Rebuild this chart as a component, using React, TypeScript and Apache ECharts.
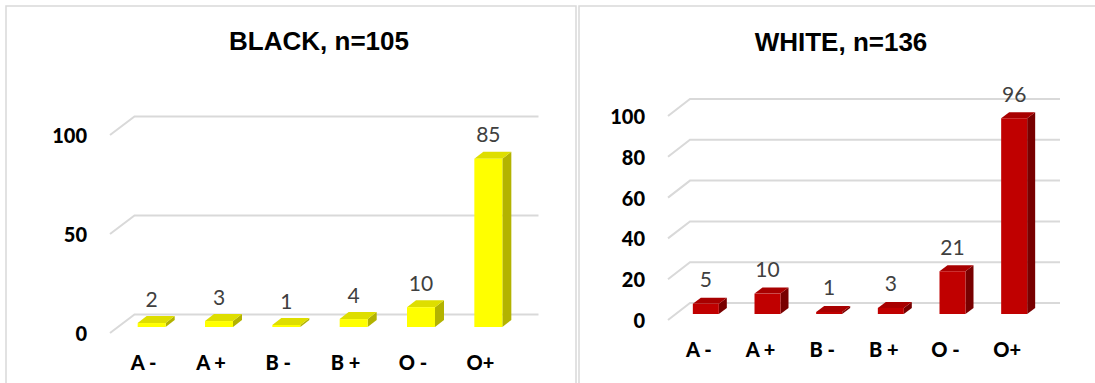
import { useEffect, useRef } from "react";
import * as echarts from "echarts";

// Blood group distribution by race
const bloodGroups = ["A -", "A +", "B -", "B +", "O -", "O+"];
const blackCounts = [2, 3, 1, 4, 10, 85];
const whiteCounts = [5, 10, 1, 3, 21, 96];
const blackTicks = [0, 50, 100];
const whiteTicks = [0, 20, 40, 60, 80, 100];
const blackTitle = "BLACK, n=105";
const whiteTitle = "WHITE, n=136";

type Panel = {
  grid: { left: number; top: number; width: number; height: number };
  interval: number;
  ticks: number[];
  values: number[];
  slant: [number, number];
  bar: { offX: number; offY: number; w: number; dx: number; dy: number };
  colors: { front: string; top: string; side: string };
};

const panels: Panel[] = [
  {
    grid: { left: 110, top: 135, width: 404, height: 198 },
    interval: 50,
    ticks: blackTicks,
    values: blackCounts,
    slant: [24.5, 18.5],
    bar: { offX: 8, offY: 6, w: 28, dx: 9, dy: 7 },
    colors: { front: "#FFFF00", top: "#DEDE00", side: "#B3B300" },
  },
  {
    grid: { left: 668, top: 116, width: 370, height: 204 },
    interval: 20,
    ticks: whiteTicks,
    values: whiteCounts,
    slant: [22, 17],
    bar: { offX: 7, offY: 6, w: 26, dx: 8, dy: 6 },
    colors: { front: "#C00000", top: "#A80000", side: "#780000" },
  },
];

const GRID_COLOR = "#D9D9D9";
const LABEL_FONT = "Lato, 'Open Sans', sans-serif";
const TITLE_FONT = "'Liberation Sans', Arial, sans-serif";

// Back-wall gridlines with the slanted floor edge on the left
function gridRenderer(p: Panel, count: number) {
  return (_params: any, api: any) => {
    const t = api.value(1);
    const first = api.coord([0, t]);
    const last = api.coord([count - 1, t]);
    const band = api.size([1, 0])[0];
    const xL = first[0] - band / 2;
    const xR = last[0] + band / 2;
    const y = first[1];
    const [sx, sy] = p.slant;
    return {
      type: "polyline",
      shape: {
        points: [
          [xL, y],
          [xL + sx, y - sy],
          [xR + sx, y - sy],
        ],
      },
      style: { stroke: GRID_COLOR, lineWidth: 2, fill: null },
      silent: true,
    };
  };
}

// Pseudo-3D column: front face, top face, right side face and value label
function barRenderer(p: Panel) {
  return (_params: any, api: any) => {
    const idx = api.value(0);
    const val = api.value(1);
    const base = api.coord([idx, 0]);
    const tip = api.coord([idx, val]);
    const { offX, offY, w, dx, dy } = p.bar;
    const x0 = base[0] + offX - w / 2;
    const x1 = x0 + w;
    const yb = base[1] - offY;
    const yt = tip[1] - offY;
    return {
      type: "group",
      children: [
        {
          type: "polygon",
          shape: {
            points: [
              [x1, yt],
              [x1 + dx, yt - dy],
              [x1 + dx, yb - dy],
              [x1, yb],
            ],
          },
          style: { fill: p.colors.side },
        },
        {
          type: "polygon",
          shape: {
            points: [
              [x0, yt],
              [x1, yt],
              [x1 + dx, yt - dy],
              [x0 + dx, yt - dy],
            ],
          },
          style: { fill: p.colors.top },
        },
        {
          type: "rect",
          shape: { x: x0, y: yt, width: w, height: yb - yt },
          style: { fill: p.colors.front },
        },
        {
          type: "text",
          x: x0 + w / 2,
          y: yt - 25,
          style: {
            text: String(val),
            fill: "#404040",
            fontSize: 21,
            fontFamily: LABEL_FONT,
            align: "center",
            verticalAlign: "middle",
          },
        },
      ],
    };
  };
}

export default function App() {
  const ref = useRef<HTMLDivElement>(null);

  useEffect(() => {
    if (!ref.current) return;
    const chart = echarts.init(ref.current, undefined, { renderer: "svg" });
    const count = bloodGroups.length;

    const option: any = {
      animation: false,
      backgroundColor: "#FFFFFF",
      grid: panels.map((p) => ({ ...p.grid, containLabel: false })),
      xAxis: panels.map((_p, i) => ({
        type: "category",
        gridIndex: i,
        data: bloodGroups,
        axisLine: { show: false },
        axisTick: { show: false },
        splitLine: { show: false },
        axisLabel: {
          margin: 19,
          color: "#000000",
          fontSize: 20,
          fontWeight: 900,
          fontFamily: LABEL_FONT,
        },
      })),
      yAxis: panels.map((p, i) => ({
        type: "value",
        gridIndex: i,
        min: 0,
        max: 100,
        interval: p.interval,
        axisLine: { show: false },
        axisTick: { show: false },
        splitLine: { show: false },
        axisLabel: {
          margin: 23,
          color: "#000000",
          fontSize: 20,
          fontWeight: 900,
          fontFamily: LABEL_FONT,
        },
      })),
      series: panels.flatMap((p, i) => [
        {
          type: "custom",
          xAxisIndex: i,
          yAxisIndex: i,
          z: 1,
          clip: false,
          silent: true,
          encode: { x: 0, y: 1 },
          data: p.ticks.map((t) => [0, t]),
          renderItem: gridRenderer(p, count),
        },
        {
          type: "custom",
          xAxisIndex: i,
          yAxisIndex: i,
          z: 2,
          clip: false,
          encode: { x: 0, y: 1 },
          data: p.values.map((v, k) => [k, v]),
          renderItem: barRenderer(p),
        },
      ]),
      graphic: [
        {
          type: "rect",
          shape: { x: 6, y: 6, width: 570, height: 420 },
          style: { fill: null, stroke: GRID_COLOR, lineWidth: 1.5 },
          silent: true,
        },
        {
          type: "rect",
          shape: { x: 579, y: 6, width: 560, height: 420 },
          style: { fill: null, stroke: GRID_COLOR, lineWidth: 1.5 },
          silent: true,
        },
        {
          type: "text",
          x: 319,
          y: 41,
          style: {
            text: blackTitle,
            fill: "#000000",
            fontSize: 26,
            fontWeight: "bold",
            fontFamily: TITLE_FONT,
            align: "center",
            verticalAlign: "middle",
          },
        },
        {
          type: "text",
          x: 841,
          y: 42,
          style: {
            text: whiteTitle,
            fill: "#000000",
            fontSize: 26,
            fontWeight: "bold",
            fontFamily: TITLE_FONT,
            align: "center",
            verticalAlign: "middle",
          },
        },
      ],
    };

    chart.setOption(option);
    return () => chart.dispose();
  }, []);

  return (
    <div
      ref={ref}
      style={{ position: "absolute", left: 0, top: 0, width: 1095, height: 383 }}
    />
  );
}
